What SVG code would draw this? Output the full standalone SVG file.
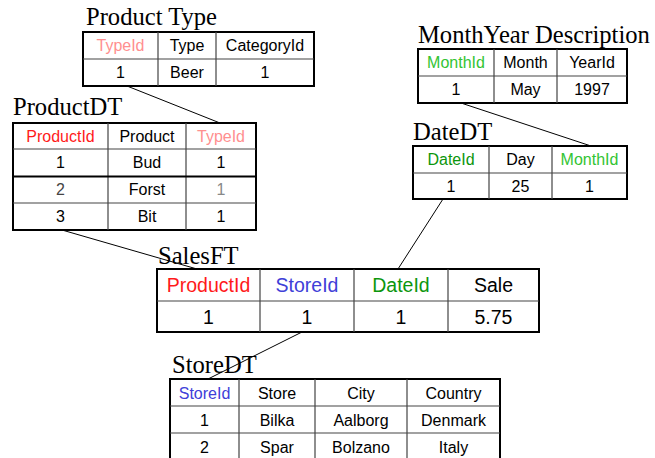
<svg xmlns="http://www.w3.org/2000/svg" width="655" height="458" viewBox="0 0 655 458">
  <style>
    .title { font-family: "Liberation Serif", "Times New Roman", serif; font-size: 24.6px; fill: #000; }
    .cell { font-family: "Liberation Sans", Arial, sans-serif; font-size: 16px; fill: #000; text-anchor: middle; }
    .big { font-size: 19.5px; }
    .frame { fill: #fff; stroke: #000; stroke-width: 2; }
    .grid { stroke: #444; stroke-width: 1.2; fill: none; }
    .rule { stroke: #000; stroke-width: 2; }
    .link { stroke: #000; stroke-width: 1; fill: none; }
    .pk-red { fill: #ff1a1a; }
    .fk-pink { fill: #ff8f8f; }
    .pk-blue { fill: #4040d8; }
    .pk-green { fill: #0c960c; }
    .fk-green { fill: #33c433; }
    .dim { fill: #444; }
    .dimmer { fill: #888; }
  </style>

  <!-- foreign-key links between tables -->
  <g id="connectors">
    <line class="link" x1="127" y1="86" x2="220" y2="123"/>
    <line class="link" x1="62" y1="230" x2="197" y2="269"/>
    <line class="link" x1="461" y1="103" x2="591" y2="146"/>
    <line class="link" x1="443" y1="199" x2="398" y2="269"/>
    <line class="link" x1="302" y1="332" x2="208" y2="379"/>
  </g>

  <!-- Product Type -->
  <g id="product-type">
    <text class="title" x="86" y="25">Product Type</text>
    <rect class="frame" x="83" y="32" width="231" height="54"/>
    <path class="grid" d="M83 59H314M158 32V86M216 32V86"/>
    <text class="cell fk-pink" x="120.5" y="51">TypeId</text>
    <text class="cell" x="187" y="51">Type</text>
    <text class="cell" x="265" y="51">CategoryId</text>
    <text class="cell" x="120.5" y="78">1</text>
    <text class="cell" x="187" y="78">Beer</text>
    <text class="cell" x="265" y="78">1</text>
  </g>

  <!-- ProductDT -->
  <g id="product-dt">
    <text class="title" x="13" y="115">ProductDT</text>
    <rect class="frame" x="13" y="123" width="243" height="107"/>
    <path class="grid" d="M13 149H256M13 203H256M108 123V230M186 123V230"/>
    <line class="rule" x1="13" y1="176.5" x2="256" y2="176.5"/>
    <text class="cell pk-red" x="60.5" y="141.5">ProductId</text>
    <text class="cell" x="147" y="141.5">Product</text>
    <text class="cell fk-pink" x="221" y="141.5">TypeId</text>
    <text class="cell" x="60.5" y="168">1</text>
    <text class="cell" x="147" y="168">Bud</text>
    <text class="cell" x="221" y="168">1</text>
    <text class="cell dim" x="60.5" y="195">2</text>
    <text class="cell" x="147" y="195">Forst</text>
    <text class="cell dimmer" x="221" y="195">1</text>
    <text class="cell" x="60.5" y="222">3</text>
    <text class="cell" x="147" y="222">Bit</text>
    <text class="cell" x="221" y="222">1</text>
  </g>

  <!-- MonthYear Description -->
  <g id="monthyear-description">
    <text class="title" x="418" y="43">MonthYear Description</text>
    <rect class="frame" x="418" y="49" width="209" height="54"/>
    <path class="grid" d="M418 76H627M494 49V103M557 49V103"/>
    <text class="cell fk-green" x="456" y="68">MonthId</text>
    <text class="cell" x="525.5" y="68">Month</text>
    <text class="cell" x="592" y="68">YearId</text>
    <text class="cell" x="456" y="95">1</text>
    <text class="cell" x="525.5" y="95">May</text>
    <text class="cell" x="592" y="95">1997</text>
  </g>

  <!-- DateDT -->
  <g id="date-dt">
    <text class="title" x="413" y="140">DateDT</text>
    <rect class="frame" x="413" y="146" width="214" height="53"/>
    <path class="grid" d="M413 173H627M489 146V199M552 146V199"/>
    <text class="cell pk-green" x="451" y="165">DateId</text>
    <text class="cell" x="520.5" y="165">Day</text>
    <text class="cell fk-green" x="589.5" y="165">MonthId</text>
    <text class="cell" x="451" y="191.5">1</text>
    <text class="cell" x="520.5" y="191.5">25</text>
    <text class="cell" x="589.5" y="191.5">1</text>
  </g>

  <!-- SalesFT (fact table) -->
  <g id="sales-ft">
    <rect class="frame" x="157" y="269" width="382" height="63"/>
    <path class="grid" d="M157 301H539M260 269V332M354 269V332M448 269V332"/>
    <text class="title" x="158" y="264">SalesFT</text>
    <text class="cell big pk-red" x="208.5" y="292">ProductId</text>
    <text class="cell big pk-blue" x="307" y="292">StoreId</text>
    <text class="cell big pk-green" x="401" y="292">DateId</text>
    <text class="cell big" x="493.5" y="292">Sale</text>
    <text class="cell big" x="208.5" y="323.5">1</text>
    <text class="cell big" x="307" y="323.5">1</text>
    <text class="cell big" x="401" y="323.5">1</text>
    <text class="cell big" x="493.5" y="323.5">5.75</text>
  </g>

  <!-- StoreDT -->
  <g id="store-dt">
    <text class="title" x="172" y="373">StoreDT</text>
    <rect class="frame" x="170" y="379" width="330" height="90"/>
    <path class="grid" d="M170 406H500M170 433H500M239 379V469M315 379V469M407 379V469"/>
    <text class="cell pk-blue" x="204.5" y="398.5">StoreId</text>
    <text class="cell" x="277" y="398.5">Store</text>
    <text class="cell" x="361" y="398.5">City</text>
    <text class="cell" x="453.5" y="398.5">Country</text>
    <text class="cell" x="204.5" y="425.5">1</text>
    <text class="cell" x="277" y="425.5">Bilka</text>
    <text class="cell" x="361" y="425.5">Aalborg</text>
    <text class="cell" x="453.5" y="425.5">Denmark</text>
    <text class="cell" x="204.5" y="452.5">2</text>
    <text class="cell" x="277" y="452.5">Spar</text>
    <text class="cell" x="361" y="452.5">Bolzano</text>
    <text class="cell" x="453.5" y="452.5">Italy</text>
  </g>
</svg>
